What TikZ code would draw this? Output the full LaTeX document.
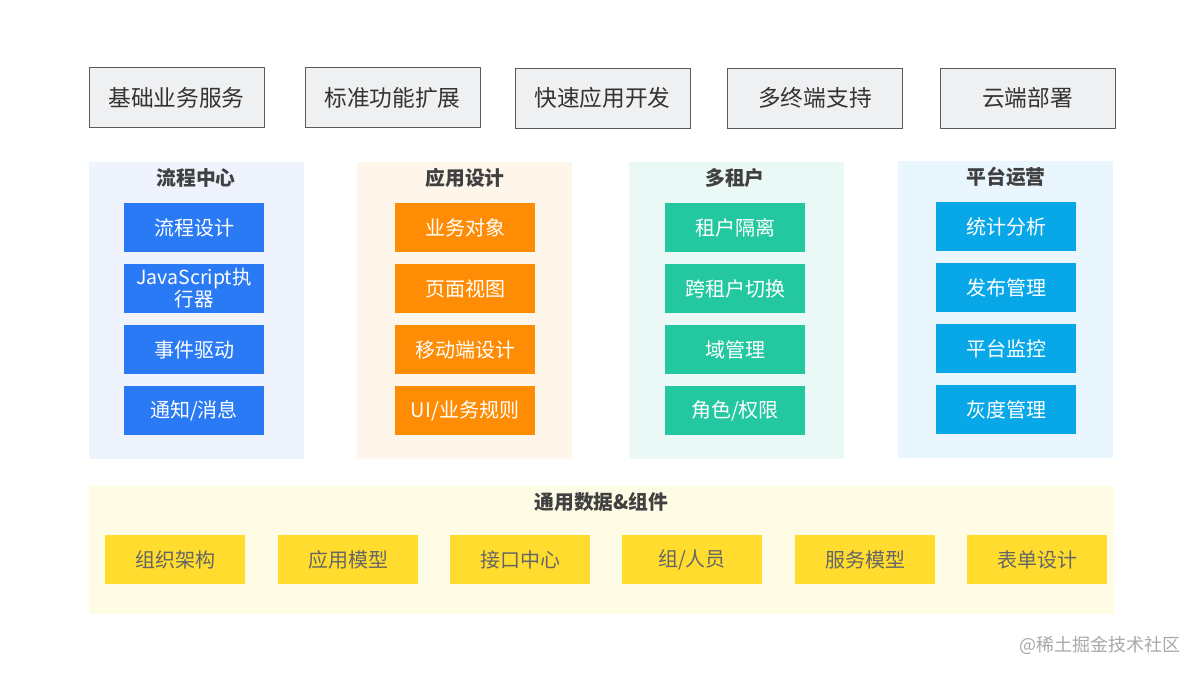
\documentclass[tikz,border=0pt]{standalone}
\usepackage{fontspec}
\setmainfont{Noto Sans CJK SC}
\definecolor{topfill}{HTML}{EEF0F2}
\definecolor{topdraw}{HTML}{5A5A5A}
\definecolor{txtdark}{HTML}{333333}
\definecolor{ttl}{HTML}{404040}
\definecolor{cblue}{HTML}{2A7AF6}
\definecolor{corange}{HTML}{FF8C05}
\definecolor{cgreen}{HTML}{23C8A0}
\definecolor{csky}{HTML}{08A8E8}
\definecolor{bgblue}{HTML}{EEF3FD}
\definecolor{bgorange}{HTML}{FEF5EB}
\definecolor{bggreen}{HTML}{EAF9F6}
\definecolor{bgsky}{HTML}{E9F6FD}
\definecolor{bgyellow}{HTML}{FFFCE6}
\definecolor{cyellow}{HTML}{FFDC2E}
\definecolor{ytxt}{HTML}{666666}
\definecolor{wm}{HTML}{A8A8A8}
\tikzset{
  topbox/.style={draw=topdraw, line width=0.9pt, fill=topfill, inner sep=0pt,
    minimum width=175pt, minimum height=60pt, text=txtdark,
    font=\fontsize{22.7}{26}\selectfont},
  panel/.style={inner sep=0pt, minimum width=215pt, minimum height=297pt},
  ptitle/.style={inner sep=0pt, text=ttl, font=\bfseries\fontsize{19.8}{23}\selectfont},
  item/.style={inner sep=0pt, minimum width=140pt, minimum height=49pt, text=white,
    align=center, font=\fontsize{20}{22}\selectfont},
  yitem/.style={inner sep=0pt, minimum width=140pt, minimum height=49pt, fill=cyellow,
    text=ytxt, font=\fontsize{20}{22}\selectfont},
}
\begin{document}
\begin{tikzpicture}[x=1pt,y=-1pt]
\path[fill=white] (0,0) rectangle (1200,675);
\useasboundingbox (0,0) rectangle (1200,675);
% top row
\node[topbox] (t1) at (176.5,97.5) {基础业务服务};
\node[topbox] (t2) at (392.5,97.5) {标准功能扩展};
\node[topbox] (t3) at (602.5,98) {快速应用开发};
\node[topbox] (t4) at (815,98) {多终端支持};
\node[topbox] (t5) at (1027.5,98) {云端部署};
% panels
\node[panel, fill=bgblue] (p1) at (196,310.5) {};
\node[panel, fill=bgorange] (p2) at (464.5,310.5) {};
\node[panel, fill=bggreen] (p3) at (736,310.5) {};
\node[panel, fill=bgsky] (p4) at (1005.5,309.5) {};
\node[ptitle] (h1) at (196,178) {流程中心};
\node[ptitle] (h2) at (465,178) {应用设计};
\node[ptitle] (h3) at (735,178) {多租户};
\node[ptitle] (h4) at (1006,177) {平台运营};
% column 1
\node[item, fill=cblue] (a1) at (194,227.5) {流程设计};
\node[item, fill=cblue, font=\fontsize{19.5}{22}\selectfont] (a2) at (194,288.5) {JavaScript执\\行器};
\node[item, fill=cblue] (a3) at (194,349.5) {事件驱动};
\node[item, fill=cblue] (a4) at (194,410.5) {通知/消息};
% column 2
\node[item, fill=corange] (b1) at (465,227.5) {业务对象};
\node[item, fill=corange] (b2) at (465,288.5) {页面视图};
\node[item, fill=corange] (b3) at (465,349.5) {移动端设计};
\node[item, fill=corange] (b4) at (465,410.5) {UI/业务规则};
% column 3
\node[item, fill=cgreen] (c1) at (735,227.5) {租户隔离};
\node[item, fill=cgreen] (c2) at (735,288.5) {跨租户切换};
\node[item, fill=cgreen] (c3) at (735,349.5) {域管理};
\node[item, fill=cgreen] (c4) at (735,410.5) {角色/权限};
% column 4
\node[item, fill=csky] (d1) at (1006,226.5) {统计分析};
\node[item, fill=csky] (d2) at (1006,287.5) {发布管理};
\node[item, fill=csky] (d3) at (1006,348.5) {平台监控};
\node[item, fill=csky] (d4) at (1006,409.5) {灰度管理};
% bottom
\node[inner sep=0pt, minimum width=1025pt, minimum height=128pt, fill=bgyellow] (bp) at (601.5,550) {};
\node[ptitle] (bh) at (601.5,502) {通用数据\&组件};
\node[yitem] (y1) at (175,559.5) {组织架构};
\node[yitem] (y2) at (348,559.5) {应用模型};
\node[yitem] (y3) at (520,559.5) {接口中心};
\node[yitem] (y4) at (692,559.5) {组/人员};
\node[yitem] (y5) at (865,559.5) {服务模型};
\node[yitem] (y6) at (1037,559.5) {表单设计};
% watermark
\node[inner sep=0pt, text=wm, font=\fontsize{18}{20}\selectfont] (wm) at (1100,645) {@稀土掘金技术社区};
\end{tikzpicture}
\end{document}
